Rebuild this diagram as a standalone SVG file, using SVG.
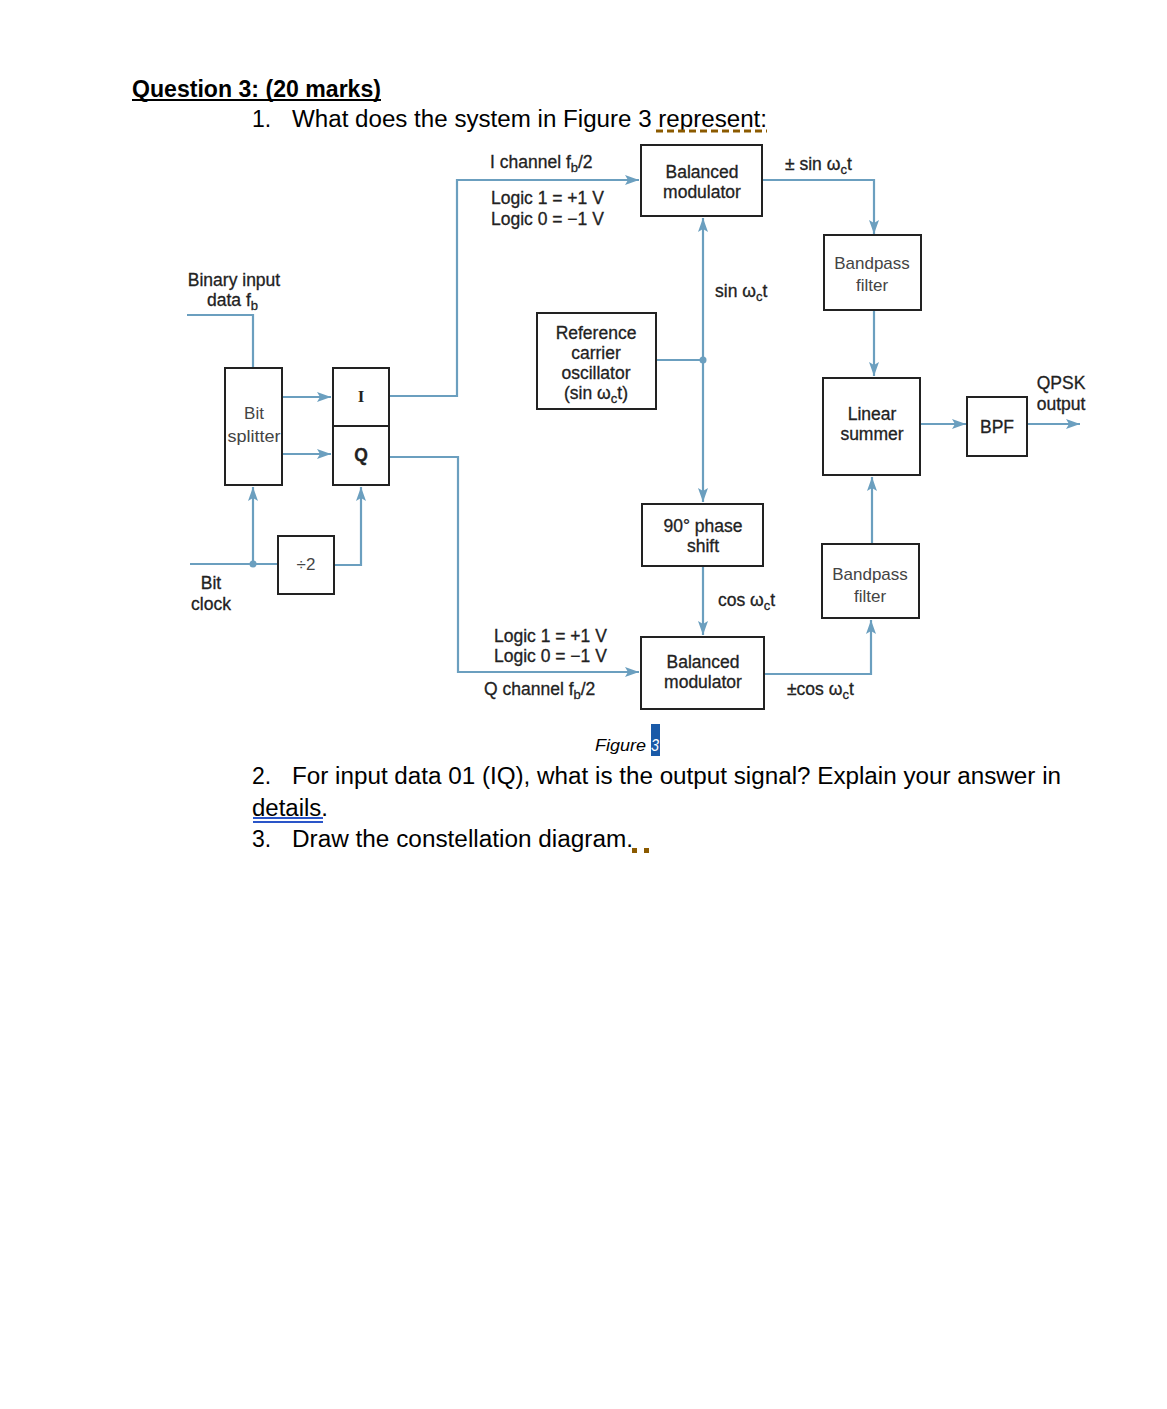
<svg xmlns="http://www.w3.org/2000/svg" width="1167" height="1409" viewBox="0 0 1167 1409">
<defs>
<marker id="ar" viewBox="0 0 14 10" refX="14" refY="5" markerWidth="14" markerHeight="10" markerUnits="userSpaceOnUse" orient="auto">
<path d="M0,0 L14,5 L0,10 L3,5 Z" fill="#6b9fbf"/>
</marker>
<style>
.doc{font-family:"Liberation Sans",Arial,sans-serif;font-size:23px;fill:#000}
.t{font-family:"Liberation Sans",Arial,sans-serif;font-size:17.5px;fill:#222;stroke:#222;stroke-width:0.3}
.tl{font-family:"Liberation Sans",Arial,sans-serif;font-size:17px;fill:#444}
.c{text-anchor:middle}
.box{fill:#fff;stroke:#222;stroke-width:2}
.ln{fill:none;stroke:#6b9fbf;stroke-width:2.2}
.a{marker-end:url(#ar)}
.dot{fill:#6b9fbf}
</style>
</defs>
<rect width="1167" height="1409" fill="#fff"/>

<g id="header">
<text class="doc" x="132" y="97" font-weight="bold" textLength="249" lengthAdjust="spacingAndGlyphs">Question 3: (20 marks)</text>
<line x1="132" y1="100" x2="381" y2="100" stroke="#000" stroke-width="2"/>
<text class="doc" x="252" y="127">1.</text>
<text class="doc" x="292" y="127" textLength="475" lengthAdjust="spacingAndGlyphs">What does the system in Figure 3 represent:</text>
<line x1="656" y1="131" x2="767" y2="131" stroke="#8b5a00" stroke-width="3" stroke-dasharray="7,4"/>
</g>

<g id="connectors">
<polyline class="ln a" points="389,396 457,396 457,180 639,180"/>
<polyline class="ln a" points="389,457 458,457 458,672 639,672"/>
<polyline class="ln a" points="762,180 874,180 874,234"/>
<line class="ln a" x1="874" y1="310" x2="874" y2="376"/>
<line class="ln a" x1="920" y1="424" x2="966" y2="424"/>
<line class="ln a" x1="1027" y1="424" x2="1080" y2="424"/>
<line class="ln" x1="656" y1="360" x2="703" y2="360"/>
<line class="ln a" x1="703" y1="360" x2="703" y2="218"/>
<line class="ln a" x1="703" y1="360" x2="703" y2="502"/>
<circle class="dot" cx="703" cy="360" r="3.5"/>
<line class="ln a" x1="703" y1="566" x2="703" y2="635"/>
<polyline class="ln a" points="764,674 871,674 871,620"/>
<line class="ln a" x1="872" y1="544" x2="872" y2="477"/>
<polyline class="ln" points="187,315 253,315 253,368"/>
<line class="ln a" x1="282" y1="397" x2="331" y2="397"/>
<line class="ln a" x1="282" y1="454" x2="331" y2="454"/>
<line class="ln" x1="190" y1="564" x2="278" y2="564"/>
<line class="ln a" x1="253" y1="564" x2="253" y2="487"/>
<circle class="dot" cx="253" cy="564" r="3.5"/>
<polyline class="ln a" points="334,565 361,565 361,487"/>
</g>

<g id="labels">
<text class="t" x="490" y="168">I channel f<tspan font-size="13" dy="4">b</tspan><tspan dy="-4">/2</tspan></text>
<text class="t" x="491" y="204">Logic 1 = +1 V</text>
<text class="t" x="491" y="225">Logic 0 = −1 V</text>
<text class="t" x="785" y="170">± sin ω<tspan font-size="13" dy="4">c</tspan><tspan dy="-4">t</tspan></text>
<text class="t" x="715" y="297">sin ω<tspan font-size="13" dy="4">c</tspan><tspan dy="-4">t</tspan></text>
<text class="t" x="718" y="606">cos ω<tspan font-size="13" dy="4">c</tspan><tspan dy="-4">t</tspan></text>
<text class="t" x="787" y="695">±cos ω<tspan font-size="13" dy="4">c</tspan><tspan dy="-4">t</tspan></text>
<text class="t" x="494" y="642">Logic 1 = +1 V</text>
<text class="t" x="494" y="662">Logic 0 = −1 V</text>
<text class="t" x="484" y="695">Q channel f<tspan font-size="13" dy="4">b</tspan><tspan dy="-4">/2</tspan></text>
<text class="t c" x="234" y="286">Binary input</text>
<text class="t" x="207" y="306">data f<tspan font-size="13" dy="4">b</tspan></text>
<text class="t c" x="211" y="589">Bit</text>
<text class="t c" x="211" y="610">clock</text>
<text class="t c" x="1061" y="389">QPSK</text>
<text class="t c" x="1061" y="410">output</text>
</g>

<g id="mod-top">
<rect class="box" x="641" y="145" width="121" height="71"/>
<text class="t c" x="702" y="178">Balanced</text>
<text class="t c" x="702" y="198">modulator</text>
</g>
<g id="bpf-top">
<rect class="box" x="824" y="235" width="97" height="75"/>
<text class="tl c" x="872" y="269">Bandpass</text>
<text class="tl c" x="872" y="291">filter</text>
</g>
<g id="summer">
<rect class="box" x="823" y="378" width="97" height="97"/>
<text class="t c" x="872" y="420">Linear</text>
<text class="t c" x="872" y="440">summer</text>
</g>
<g id="bpf">
<rect class="box" x="967" y="397" width="60" height="59"/>
<text class="t c" x="997" y="433">BPF</text>
</g>
<g id="oscillator">
<rect class="box" x="537" y="313" width="119" height="96"/>
<text class="t c" x="596" y="339">Reference</text>
<text class="t c" x="596" y="359">carrier</text>
<text class="t c" x="596" y="379">oscillator</text>
<text class="t c" x="596" y="399">(sin ω<tspan font-size="13" dy="4">c</tspan><tspan dy="-4">t)</tspan></text>
</g>
<g id="phase-shift">
<rect class="box" x="642" y="504" width="121" height="62"/>
<text class="t c" x="703" y="532">90° phase</text>
<text class="t c" x="703" y="552">shift</text>
</g>
<g id="mod-bottom">
<rect class="box" x="641" y="637" width="123" height="72"/>
<text class="t c" x="703" y="668">Balanced</text>
<text class="t c" x="703" y="688">modulator</text>
</g>
<g id="bpf-bottom">
<rect class="box" x="822" y="544" width="97" height="74"/>
<text class="tl c" x="870" y="580">Bandpass</text>
<text class="tl c" x="870" y="602">filter</text>
</g>
<g id="splitter">
<rect class="box" x="225" y="368" width="57" height="117"/>
<text class="tl c" x="254" y="419">Bit</text>
<text class="tl c" x="254" y="442" textLength="53" lengthAdjust="spacingAndGlyphs">splitter</text>
</g>
<g id="i-box">
<rect class="box" x="333" y="368" width="56" height="58"/>
<text x="361" y="402" text-anchor="middle" font-family="Liberation Serif,serif" font-size="17" font-weight="bold" fill="#222">I</text>
</g>
<g id="q-box">
<rect class="box" x="333" y="426" width="56" height="59"/>
<text class="t c" x="361" y="461" font-weight="bold">Q</text>
</g>
<g id="div2">
<rect class="box" x="278" y="536" width="56" height="58"/>
<text class="tl c" x="306" y="570">÷2</text>
</g>

<g id="footer">
<text x="595" y="751" font-family="Liberation Sans,Arial,sans-serif" font-size="17" font-style="italic" fill="#000" textLength="51" lengthAdjust="spacingAndGlyphs">Figure</text>
<rect x="651" y="724" width="9" height="32" fill="#1a5aa8"/>
<text x="651" y="751" font-family="Liberation Sans,Arial,sans-serif" font-size="17" font-style="italic" fill="#fff" textLength="8" lengthAdjust="spacingAndGlyphs">3</text>
<text class="doc" x="252" y="784">2.</text>
<text class="doc" x="292" y="784" textLength="769" lengthAdjust="spacingAndGlyphs">For input data 01 (IQ), what is the output signal? Explain your answer in</text>
<text class="doc" x="252" y="816" textLength="76" lengthAdjust="spacingAndGlyphs">details.</text>
<line x1="253" y1="818" x2="323" y2="818" stroke="#2a55c8" stroke-width="2"/>
<line x1="253" y1="822" x2="323" y2="822" stroke="#2a55c8" stroke-width="2"/>
<text class="doc" x="252" y="847">3.</text>
<text class="doc" x="292" y="847" textLength="341" lengthAdjust="spacingAndGlyphs">Draw the constellation diagram.</text>
<rect x="632" y="848" width="5" height="5" fill="#8b5a00"/>
<rect x="644" y="848" width="5" height="5" fill="#8b5a00"/>
</g>
</svg>
